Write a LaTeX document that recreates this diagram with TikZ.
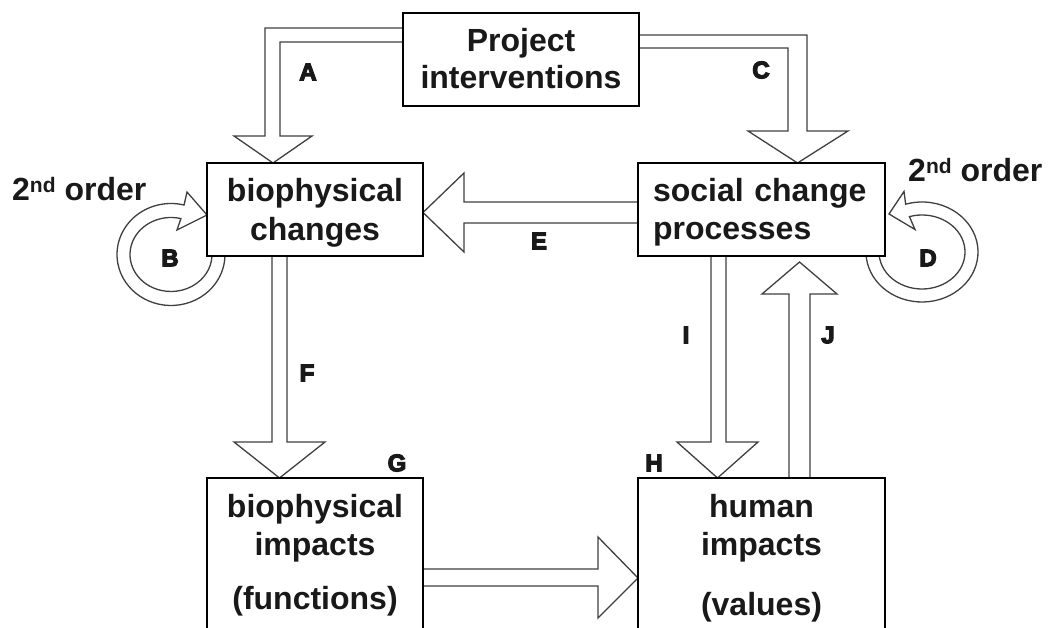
\documentclass[tikz,border=0pt]{standalone}
\usepackage{fontspec}
\setmainfont{Liberation Sans}
\newfontfamily\labfont{Liberation Sans}[FakeBold=5]
\usetikzlibrary{calc}
\pgfdeclarelayer{bg}
\pgfsetlayers{bg,main}
\tikzset{
  box/.style={draw=black, line width=2.5pt, fill=white, inner sep=0pt, outer sep=0pt,
    font=\bfseries\fontsize{32}{38}\selectfont, text=black!90, align=center},
  blk/.style={draw=black!75, line width=1.3pt, fill=white, line join=miter},
  lab/.style={font=\labfont\bfseries\fontsize{24}{24}\selectfont, inner sep=0pt, text=black!90},
  ord/.style={font=\bfseries\fontsize{32}{32}\selectfont, inner sep=0pt, anchor=base west, text=black!90},
}
\newcommand{\ndsup}{\raisebox{8pt}{\fontsize{21}{21}\selectfont nd}}
\begin{document}
\begin{tikzpicture}[x=1pt,y=-1pt]
\useasboundingbox (0,0) rectangle (1049,628);

% boxes
\node[box, minimum width=236pt, minimum height=93pt, text height=61pt, text depth=2pt,
  font=\bfseries\fontsize{32}{37}\selectfont] (proj) at (521,59.5) {Project\\interventions};
\node[box, minimum width=216pt, minimum height=93pt, text height=63pt, text depth=1pt,
  font=\bfseries\fontsize{32}{38.5}\selectfont] (bc) at (315,209.5) {biophysical\\changes};
\node[box, minimum width=247pt, minimum height=93pt, text height=24pt, text depth=39pt,
  align=left, text width=217pt, inner xsep=15pt] (sc) at (761.5,209.5) {social change\\processes};
\node[box, minimum width=216pt, minimum height=200pt, text height=116pt, text depth=54pt]
  (bi) at (315,578) {biophysical\\impacts\\[16pt](functions)};
\node[box, minimum width=247pt, minimum height=200pt, text height=122pt, text depth=48pt]
  (hi) at (761.5,578) {human\\impacts\\[22pt](values)};

% labels
\node[lab] (lA) at (308,72) {A};
\node[lab] (lC) at (761,70) {C};
\node[lab] (lB) at (170,258) {B};
\node[lab] (lD) at (928,258) {D};
\node[lab] (lE) at (539,241) {E};
\node[lab] (lF) at (307,373) {F};
\node[lab] (lG) at (397,463) {G};
\node[lab] (lH) at (654,463) {H};
\node[lab] (lI) at (686,335) {I};
\node[lab] (lJ) at (828,335) {J};

\node[ord] (o1) at (12,201) {2\ndsup{} order};
\node[ord] (o2) at (908,182) {2\ndsup{} order};

\begin{pgfonlayer}{bg}
\fill[white] (0,0) rectangle (1049,628);
% A
\draw[blk] ($(proj.north west)+(0,15)$) -| (265,136) -- (234,136) -- ($(bc.north)+(-42,0)$)
  -- (312,136) -- (280,136) |- ($(proj.north west)+(0,29)$);
% C
\draw[blk] ($(proj.north east)+(0,22)$) -| (807,131) -- (848,131) -- ($(sc.north)+(36,0)$)
  -- (748,131) -- (788,131) |- ($(proj.north east)+(0,35)$);
% E
\draw[blk] ($(sc.north west)+(0,39)$) -- (464,202) -- (464,173) -- ($(bc.east)+(0,3)$)
  -- (464,252) -- (464,223) -- ($(sc.north west)+(0,60)$);
% F
\draw[blk] ($(bc.south west)+(65,0)$) -- (272,442) -- (234,442) -- ($(bi.north)+(-35.5,0)$)
  -- (325,442) -- (287,442) -- ($(bc.south west)+(80,0)$);
% G -> H
\draw[blk] ($(bi.north east)+(0,91)$) -- (598,569) -- (598,537) -- ($(hi.north west)+(0,100)$)
  -- (598,618) -- (598,586) -- ($(bi.north east)+(0,108)$);
% I
\draw[blk] ($(sc.south west)+(73,0)$) -- (711,442) -- (677,442) -- ($(hi.north west)+(79.5,0)$)
  -- (758,442) -- (726,442) -- ($(sc.south west)+(88,0)$);
% J
\draw[blk] ($(hi.north west)+(151,0)$) -- (789,294) -- (762,294) -- ($(sc.south west)+(161.5,6)$)
  -- (837,294) -- (810,294) -- ($(hi.north west)+(172,0)$);
% B loop
\draw[blk] ($(171,254.5)+(-10:54 and 51)$) arc[start angle=-10, end angle=284, x radius=54, y radius=51]
  -- (187,192) -- ($(bc.west)+(0,5.5)$) -- (177,230)
  -- ($(171,254.5)+(284:41 and 37)$) arc[start angle=284, end angle=-10, x radius=41, y radius=37] -- cycle;
% D loop
\draw[blk] ($(922,252)+(190:56 and 50)$) arc[start angle=190, end angle=-107, x radius=56, y radius=50]
  -- (904,191.5) -- ($(sc.east)+(4,4.5)$) -- (915,229.5)
  -- ($(922,252)+(-107:43 and 37)$) arc[start angle=-107, end angle=190, x radius=43, y radius=37] -- cycle;
\end{pgfonlayer}
\end{tikzpicture}
\end{document}
